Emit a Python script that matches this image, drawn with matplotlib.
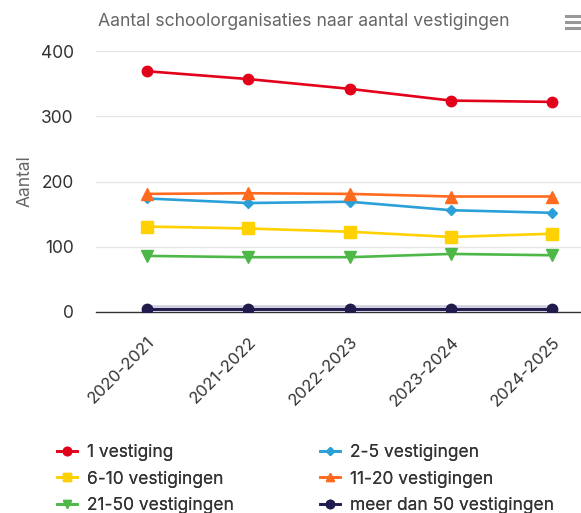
import matplotlib
matplotlib.use("Agg")
import matplotlib.pyplot as plt
import matplotlib.patheffects as pe

plt.rcParams['font.family'] = ['Inter', 'DejaVu Sans']

# data
years = ['2020-2021', '2021-2022', '2022-2023', '2023-2024', '2024-2025']
series_names = ['1 vestiging', '2-5 vestigingen', '6-10 vestigingen',
                '11-20 vestigingen', '21-50 vestigingen', 'meer dan 50 vestigingen']
v_1 = [369, 357, 342, 324, 322]
v_2_5 = [174, 167, 169, 156, 152]
v_6_10 = [131, 128, 123, 115, 120]
v_11_20 = [181, 182, 181, 177, 177]
v_21_50 = [86, 84, 84, 89, 87]
v_50plus = [5, 5, 5, 5, 5]

values = [v_1, v_2_5, v_6_10, v_11_20, v_21_50, v_50plus]
colors = ['#e3001b', '#2a9fd8', '#ffd100', '#ff6a1f', '#4db848', '#1f1b4d']
markers = ['o', 'D', 's', '^', 'v', 'o']
msizes = [7.5, 5.5, 8, 8, 8, 7.5]

fig = plt.figure(figsize=(5.81, 5.13), dpi=100)
ax = fig.add_axes([96/581, 1 - 312/513, 1 - 96/581, (312 - 51)/513])

x = list(range(len(years)))
handles = []
for name, vals, c, m, ms in zip(series_names, values, colors, markers, msizes):
    if name.startswith('meer'):
        # light halo round the bottom series line
        ax.plot(x, vals, color=c, linewidth=1.9, zorder=3,
                path_effects=[pe.Stroke(linewidth=5.5, foreground='#cfcfe0'), pe.Normal()])
    ln, = ax.plot(x, vals, color=c, marker=m, markersize=ms, linewidth=1.9,
                  label=name, zorder=4)
    handles.append(ln)

ax.set_xlim(-0.5, (581 - 146) / 101.6)
ax.set_ylim(0, 400)
ax.set_yticks([0, 100, 200, 300, 400])
ax.set_xticks(x)
ax.set_xticklabels(years, rotation=45, ha='right', va='top',
                   rotation_mode='anchor', fontsize=12, color='#333333')
ax.tick_params(axis='y', length=0, pad=16, labelsize=12.5, labelcolor='#333333')
ax.tick_params(axis='x', length=0, pad=16)

ax.grid(axis='y', color='#e6e6e6', linewidth=1)
ax.set_axisbelow(True)
for s in ['top', 'right', 'left']:
    ax.spines[s].set_visible(False)
ax.spines['bottom'].set_color('#333333')
ax.spines['bottom'].set_linewidth(1)

fig.text(25/581, 1 - 181/513, 'Aantal', rotation=90, ha='center', va='center',
         fontsize=12.5, color='#666666')
fig.text(98/581, 1 - 22/513, 'Aantal schoolorganisaties naar aantal vestigingen',
         ha='left', va='center', fontsize=12.7, color='#666666')

# menu icon, partly cut off
for yy in [16, 22, 28]:
    fig.add_artist(plt.Line2D([566/581, 1.0], [1 - yy/513, 1 - yy/513],
                              color='#999999', linewidth=2.2))

# two legend columns
cols = [([0, 2, 4], 57), ([1, 3, 5], 320)]
for idx, left in cols:
    leg = fig.legend([handles[i] for i in idx], [series_names[i] for i in idx],
                     loc='upper left', bbox_to_anchor=(left/581, 1 - 444/513),
                     frameon=False, fontsize=12.5, labelcolor='#333333',
                     handlelength=1.15, handletextpad=0.55, borderpad=0,
                     borderaxespad=0, labelspacing=0.55, markerscale=0.8)
    fig.add_artist(leg)

fig.savefig('out.png', dpi=100)
